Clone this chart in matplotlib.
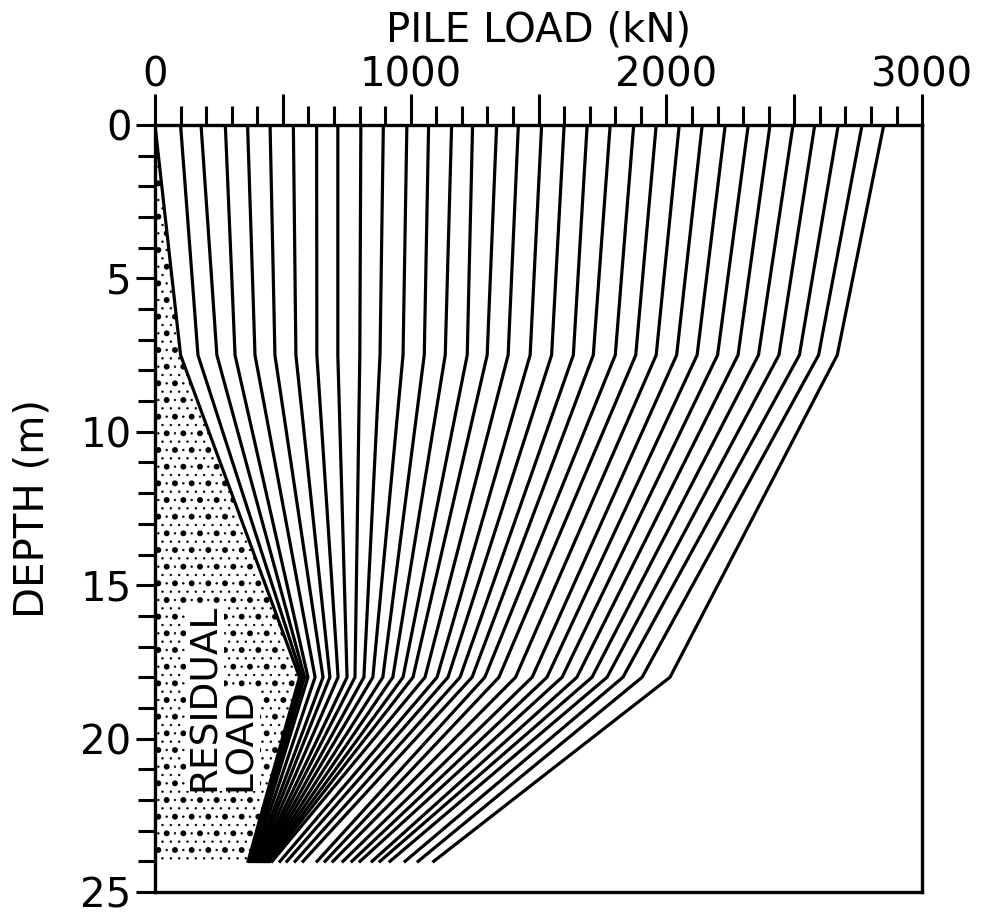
import matplotlib
matplotlib.use("Agg")
import matplotlib.pyplot as plt
from matplotlib.ticker import MultipleLocator, FuncFormatter

plt.rcParams['font.family'] = ['DejaVu Sans']

# depths of the break points (m)
depths = [0, 7.5, 18, 24]

# residual load in the pile (kN)
residual = [0, 100, 565, 364]

# pile load at each break point for every load increment (kN)
load_top = [100, 180, 275, 362, 450, 541, 632, 715, 805, 893, 985, 1070,
            1160, 1242, 1336, 1421, 1512, 1600, 1690, 1780, 1872, 1960,
            2050, 2140, 2230, 2320, 2405, 2495, 2580, 2672, 2765, 2850]
load_7m = [168, 242, 313, 391, 469, 551, 633, 715, 801, 880, 970, 1053,
           1135, 1221, 1299, 1381, 1467, 1551, 1636, 1714, 1800, 1880,
           1960, 2040, 2120, 2200, 2280, 2360, 2440, 2520, 2595, 2668]
load_18m = [575, 585, 598, 626, 657, 684, 716, 751, 782, 817, 852, 891,
            930, 970, 1009, 1056, 1103, 1146, 1193, 1240, 1290, 1345,
            1410, 1475, 1533, 1592, 1650, 1709, 1768, 1830, 1905, 2014]
load_24m = [368, 373, 378, 383, 389, 395, 401, 407, 413, 419, 425, 431,
            437, 443, 449, 458, 489, 516, 548, 579, 634, 665, 696, 735,
            770, 802, 849, 880, 919, 978, 1029, 1090]

fig = plt.figure(figsize=(9.81, 9.19), dpi=100)
ax = fig.add_axes([0.158, 0.0294, 0.782, 0.8346])

# stippled residual load area: small dots plus a sparser set of big dots
with plt.rc_context({'hatch.linewidth': 0.5}):
    ax.fill_betweenx(depths, 0, residual, facecolor='white',
                     edgecolor='black', hatch='..', linewidth=0)
with plt.rc_context({'hatch.linewidth': 1.8}):
    ax.fill_betweenx(depths, 0, residual, facecolor='none',
                     edgecolor='black', hatch='.', linewidth=0)
ax.plot(residual, depths, color='black', lw=2.3, solid_joinstyle='miter')

for i in range(len(load_top)):
    ax.plot([load_top[i], load_7m[i], load_18m[i], load_24m[i]], depths,
            color='black', lw=2.3, solid_joinstyle='miter')

box = dict(facecolor='white', edgecolor='none', pad=0.5)
ax.text(196, 21.7, "RESIDUAL", rotation=90, ha='center', va='bottom',
        fontsize=27, bbox=box)
ax.text(336, 21.7, "LOAD", rotation=90, ha='center', va='bottom',
        fontsize=27, bbox=box)

ax.set_xlim(0, 3000)
ax.set_ylim(25, 0)

ax.xaxis.tick_top()
ax.xaxis.set_label_position('top')
ax.xaxis.set_major_locator(MultipleLocator(500))
ax.xaxis.set_minor_locator(MultipleLocator(100))
ax.xaxis.set_major_formatter(FuncFormatter(
    lambda v, p: f"{int(v)}" if v % 1000 == 0 else ""))
ax.yaxis.set_major_locator(MultipleLocator(5))
ax.yaxis.set_minor_locator(MultipleLocator(1))

ax.tick_params(axis='x', which='major', direction='out', length=22,
               width=2.2, labelsize=29, pad=-1)
ax.tick_params(axis='x', which='minor', direction='out', length=14, width=2.2)
ax.tick_params(axis='y', which='major', direction='out', length=14,
               width=2.2, labelsize=29, pad=3)
ax.tick_params(axis='y', which='minor', direction='out', length=12, width=2.2)

for s in ax.spines.values():
    s.set_linewidth(2.4)

ax.set_xlabel("PILE LOAD (kN)", fontsize=29, labelpad=10)
ax.set_ylabel("DEPTH (m)", fontsize=29, labelpad=20)

fig.savefig("out.png", dpi=100)
